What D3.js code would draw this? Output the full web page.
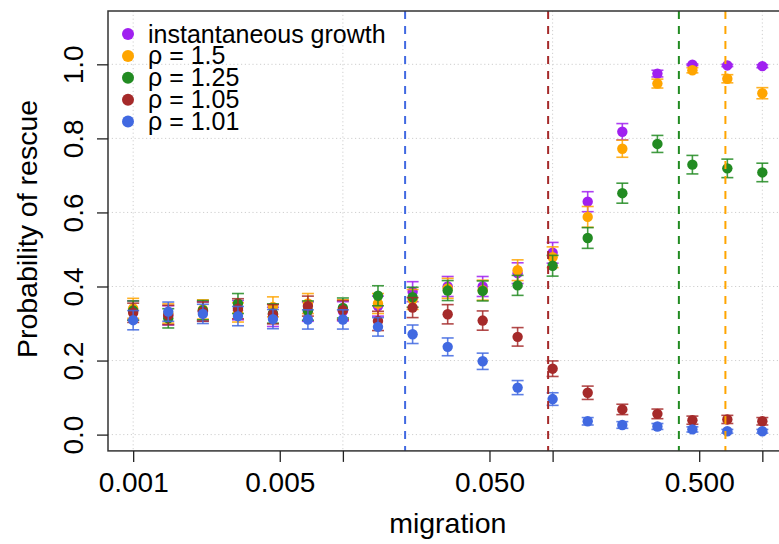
<!DOCTYPE html>
<html><head><meta charset="utf-8">
<script src="https://cdn.jsdelivr.net/npm/d3@7"></script>
<style>body{margin:0;background:#fff}svg{display:block}</style>
</head><body>
<svg id="chart" width="779" height="544"></svg>
<script>
// ---- data ----
const migration = [0.001, 0.00147, 0.00215, 0.00316, 0.00464, 0.00681, 0.01, 0.0147, 0.0215, 0.0316, 0.0464, 0.0681, 0.1, 0.147, 0.215, 0.316, 0.464, 0.681, 1.0];
const seriesNames = ["instantaneous growth", "ρ = 1.5", "ρ = 1.25", "ρ = 1.05", "ρ = 1.01"];
const seriesColors = ["#A020F0", "#FFA500", "#228B22", "#A52A2A", "#4169E1"];
const instantGrowth = [0.335, 0.322, 0.333, 0.336, 0.318, 0.332, 0.333, 0.347, 0.386, 0.400, 0.400, 0.436, 0.491, 0.629, 0.818, 0.975, 0.999, 0.997, 0.995];
const rho150 = [0.341, 0.327, 0.338, 0.330, 0.345, 0.354, 0.338, 0.354, 0.365, 0.395, 0.390, 0.444, 0.479, 0.588, 0.772, 0.948, 0.984, 0.961, 0.922];
const rho125 = [0.335, 0.314, 0.336, 0.354, 0.327, 0.335, 0.342, 0.375, 0.371, 0.389, 0.388, 0.403, 0.456, 0.531, 0.652, 0.785, 0.729, 0.719, 0.708];
const rho105 = [0.329, 0.323, 0.332, 0.340, 0.325, 0.347, 0.336, 0.307, 0.343, 0.325, 0.308, 0.264, 0.178, 0.113, 0.068, 0.056, 0.039, 0.041, 0.036];
const rho101 = [0.309, 0.332, 0.326, 0.320, 0.312, 0.311, 0.311, 0.291, 0.271, 0.237, 0.198, 0.127, 0.096, 0.036, 0.026, 0.022, 0.014, 0.009, 0.009];
// error bar half-widths
const instantErr = [0.026, 0.026, 0.026, 0.026, 0.026, 0.026, 0.026, 0.027, 0.027, 0.027, 0.027, 0.028, 0.028, 0.027, 0.022, 0.009, 0.002, 0.003, 0.004];
const rho150Err = [0.027, 0.026, 0.026, 0.026, 0.027, 0.027, 0.026, 0.027, 0.027, 0.027, 0.027, 0.028, 0.028, 0.028, 0.023, 0.012, 0.007, 0.011, 0.015];
const rho125Err = [0.026, 0.026, 0.026, 0.027, 0.026, 0.026, 0.027, 0.027, 0.027, 0.027, 0.027, 0.027, 0.028, 0.028, 0.027, 0.023, 0.025, 0.025, 0.025];
const rho105Err = [0.026, 0.026, 0.026, 0.027, 0.026, 0.027, 0.026, 0.026, 0.027, 0.026, 0.026, 0.025, 0.021, 0.018, 0.014, 0.013, 0.011, 0.011, 0.010];
const rho101Err = [0.026, 0.026, 0.026, 0.026, 0.026, 0.026, 0.026, 0.025, 0.025, 0.024, 0.022, 0.019, 0.017, 0.010, 0.009, 0.008, 0.007, 0.005, 0.005];
// critical migration (dashed lines), in order: rho 1.01, 1.05, 1.25, 1.5
const criticalM = [0.0198, 0.0952, 0.4, 0.6667];
const criticalColors = ["#4169E1", "#A52A2A", "#228B22", "#FFA500"];
const xTickValues = [0.001, 0.005, 0.01, 0.05, 0.1, 0.5, 1];
const xTickLabels = ["0.001", "0.005", "", "0.050", "", "0.500", ""];
const xGridValues = [0.001, 0.01, 0.1, 1];
const yTickValues = [0, 0.2, 0.4, 0.6, 0.8, 1.0];

const seriesValues = [instantGrowth, rho150, rho125, rho105, rho101];
const seriesErrors = [instantErr, rho150Err, rho125Err, rho105Err, rho101Err];

// ---- layout ----
const L = 108, R = 787.5, T = 11, B = 450.9;
const font = "'Liberation Sans', Arial, Helvetica, sans-serif";
const svg = d3.select("#chart");
const x = d3.scaleLog().domain([Math.pow(10, -3.12), Math.pow(10, 0.12)]).range([L, R]);
const y = d3.scaleLinear().domain([-0.044, 1.144]).range([B, T]);

svg.append("defs").append("clipPath").attr("id", "plotclip")
  .append("rect").attr("x", L).attr("y", T).attr("width", R - L).attr("height", B - T);
const plot = svg.append("g").attr("clip-path", "url(#plotclip)");

// grid
plot.append("g").selectAll("line").data(xGridValues).join("line")
  .attr("x1", d => x(d)).attr("x2", d => x(d)).attr("y1", T).attr("y2", B)
  .attr("stroke", "#cfcfcf").attr("stroke-width", 1).attr("stroke-dasharray", "1.2,2.6");
plot.append("g").selectAll("line").data(yTickValues).join("line")
  .attr("y1", d => y(d)).attr("y2", d => y(d)).attr("x1", L).attr("x2", R)
  .attr("stroke", "#cfcfcf").attr("stroke-width", 1).attr("stroke-dasharray", "1.2,2.6");

// series
seriesValues.forEach((vals, si) => {
  const col = seriesColors[si];
  const errs = seriesErrors[si];
  const g = plot.append("g");
  const data = vals.map((v, i) => ({m: migration[i], v, e: errs[i]}));
  const eb = g.append("g").attr("stroke", col).attr("stroke-width", 1.6).attr("stroke-opacity", 0.85);
  eb.selectAll("line.v").data(data).join("line").attr("class", "v")
    .attr("x1", d => x(d.m)).attr("x2", d => x(d.m))
    .attr("y1", d => y(d.v - d.e)).attr("y2", d => y(d.v + d.e));
  eb.selectAll("line.t").data(data).join("line").attr("class", "t")
    .attr("x1", d => x(d.m) - 6).attr("x2", d => x(d.m) + 6)
    .attr("y1", d => y(d.v + d.e)).attr("y2", d => y(d.v + d.e));
  eb.selectAll("line.b").data(data).join("line").attr("class", "b")
    .attr("x1", d => x(d.m) - 6).attr("x2", d => x(d.m) + 6)
    .attr("y1", d => y(d.v - d.e)).attr("y2", d => y(d.v - d.e));
  g.selectAll("circle").data(data).join("circle")
    .attr("cx", d => x(d.m)).attr("cy", d => y(d.v)).attr("r", 5.2).attr("fill", col);
});

// critical dashed lines
plot.append("g").selectAll("line").data(criticalM).join("line")
  .attr("x1", d => x(d)).attr("x2", d => x(d)).attr("y1", T).attr("y2", B)
  .attr("stroke", (d, i) => criticalColors[i]).attr("stroke-width", 2)
  .attr("stroke-dasharray", "8,7");

// box
svg.append("rect").attr("x", L).attr("y", T).attr("width", R - L).attr("height", B - T)
  .attr("fill", "none").attr("stroke", "#333").attr("stroke-width", 1.5);

// x axis
const xAxis = svg.append("g").attr("transform", `translate(0,${B})`)
  .call(d3.axisBottom(x).tickValues(xTickValues)
    .tickFormat((d, i) => xTickLabels[i]).tickSize(11).tickSizeOuter(0).tickPadding(10));
xAxis.select(".domain").remove();
xAxis.selectAll(".tick line").attr("stroke", "#222").attr("stroke-width", 1.3);
xAxis.selectAll("text").attr("font-family", font).attr("font-size", 28).attr("fill", "#000");

// y axis
const yAxis = svg.append("g").attr("transform", `translate(${L},0)`)
  .call(d3.axisLeft(y).tickValues(yTickValues).tickFormat(d3.format(".1f")).tickSize(11).tickSizeOuter(0));
yAxis.select(".domain").remove();
yAxis.selectAll(".tick line").attr("stroke", "#222").attr("stroke-width", 1.3);
yAxis.selectAll("text").attr("font-family", font).attr("font-size", 28).attr("fill", "#000")
  .attr("transform", "rotate(-90)").attr("x", 0).attr("y", -25).attr("dy", null)
  .attr("text-anchor", "middle");

// axis titles
svg.append("text").attr("x", (L + R) / 2).attr("y", 533).attr("text-anchor", "middle")
  .attr("font-family", font).attr("font-size", 28.5).text("migration");
svg.append("text").attr("transform", "translate(36.5,229) rotate(-90)").attr("text-anchor", "middle")
  .attr("font-family", font).attr("font-size", 28.5).text("Probability of rescue");

// legend
const legY0 = 34, legDy = 21.9;
const leg = svg.append("g");
seriesNames.forEach((name, i) => {
  leg.append("circle").attr("cx", 128).attr("cy", legY0 + i * legDy).attr("r", 6).attr("fill", seriesColors[i]);
  leg.append("text").attr("x", 148).attr("y", legY0 + i * legDy + 8.5)
    .attr("font-family", font).attr("font-size", 25).attr("fill", "#000").text(name);
});
</script>
</body></html>
